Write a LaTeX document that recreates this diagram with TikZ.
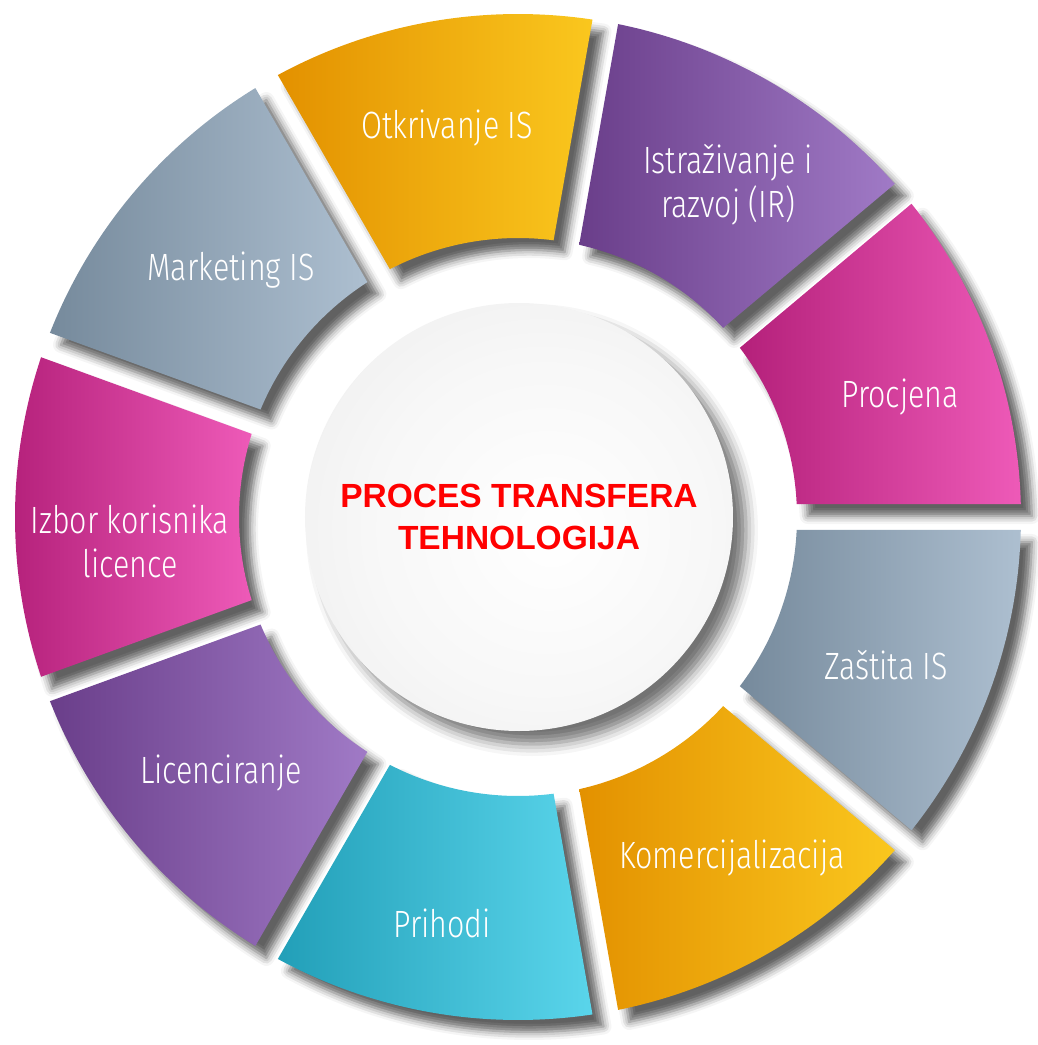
\documentclass[tikz,border=0pt]{standalone}
\usepackage{fontspec}
\newfontfamily\segfont{Fira Sans Light}[FakeStretch=0.8]
\newfontfamily\corefont{Liberation Sans}
\usetikzlibrary{shadows.blur}

\definecolor{ambL}{HTML}{E39100}
\definecolor{ambR}{HTML}{FAC71E}
\definecolor{purL}{HTML}{6A3E8A}
\definecolor{purR}{HTML}{A07AC6}
\definecolor{magL}{HTML}{B4207A}
\definecolor{magR}{HTML}{EE5AB8}
\definecolor{slateL}{HTML}{768A9C}
\definecolor{slateR}{HTML}{ADBFD0}
\definecolor{cyanL}{HTML}{229FB8}
\definecolor{cyanR}{HTML}{5AD5EB}

\pgfdeclareradialshading{corefill}{\pgfpoint{4bp}{-2bp}}{color(0bp)=(white); color(20bp)=(white!97!black); color(40bp)=(white!92!black); color(50bp)=(white!84!black); color(70bp)=(white!84!black)}

\begin{document}
\begin{tikzpicture}[x=1pt, y=1pt,
	seg/.style={blur shadow={shadow xshift=11pt, shadow yshift=-12pt, shadow blur radius=8pt, shadow opacity=62}},
	seglabel/.style={text=white, align=center, font=\segfont\fontsize{38}{44}\selectfont}]

	\useasboundingbox (-518,-528) rectangle (519,517);

	% nine ring pieces, 40 degrees each, 26 wide gaps between them
	\def\Ro{503}
	\def\Ri{279}
	\pgfmathsetmacro{\dOut}{asin(13/\Ro)}
	\pgfmathsetmacro{\dIn}{asin(13/\Ri)}
	\foreach \a/\cl/\cr in {0/magL/magR, 40/purL/purR, 80/ambL/ambR, 120/slateL/slateR, 160/magL/magR, 200/purL/purR, 240/cyanL/cyanR, 280/ambL/ambR, 320/slateL/slateR}
	{
		\pgfmathsetmacro{\e}{\a+40}
		\path[seg, left color=\cl, right color=\cr]
			(\a+\dOut:\Ro) arc[start angle=\a+\dOut, end angle=\e-\dOut, radius=\Ro]
			-- (\e-\dIn:\Ri) arc[start angle=\e-\dIn, end angle=\a+\dIn, radius=\Ri] -- cycle;
	}

	\node[seglabel] (procjena) at (382,120) {Procjena};
	\node[seglabel] (istrazivanje) at (210,332) {Istraživanje i\\razvoj (IR)};
	\node[seglabel] (otkrivanje) at (-71,389) {Otkrivanje IS};
	\node[seglabel] (marketing) at (-287,247) {Marketing IS};
	\node[seglabel] (izbor) at (-388,-24) {Izbor korisnika\\licence};
	\node[seglabel] (licenciranje) at (-297,-256) {Licenciranje};
	\node[seglabel] (prihodi) at (-76,-406) {Prihodi};
	\node[seglabel] (komercijalizacija) at (214,-341) {Komercijalizacija};
	\node[seglabel] (zastita) at (368,-148) {Zaštita IS};

	% centre disc
	\node[circle, minimum size=428, shading=corefill, align=center, text=red,
		blur shadow={shadow xshift=13pt, shadow yshift=-13pt, shadow blur radius=12pt, shadow opacity=55},
		font=\corefont\bfseries\fontsize{33.5}{42}\selectfont] (core) at (1,0) {PROCES TRANSFERA\\TEHNOLOGIJA};

\end{tikzpicture}
\end{document}
